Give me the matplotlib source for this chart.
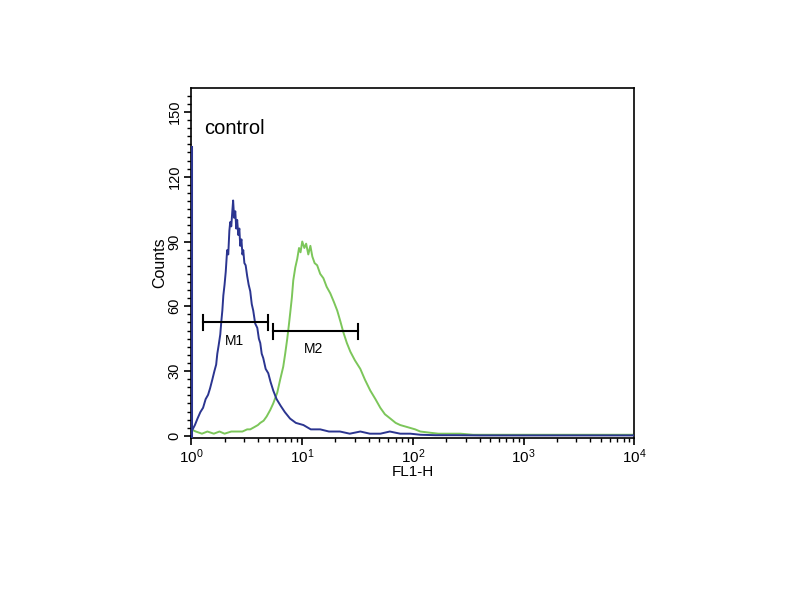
import numpy as np
import matplotlib
matplotlib.use('Agg')
import matplotlib.pyplot as plt
from matplotlib.ticker import MultipleLocator, LogLocator, NullFormatter

plt.rcParams['font.family'] = ['Liberation Sans', 'DejaVu Sans']

blue_x = [1.03, 1.08, 1.14, 1.21, 1.28, 1.35, 1.42, 1.48, 1.55, 1.62, 1.68, 1.72, 1.77,
          1.83, 1.87, 1.91, 1.95, 2.00, 2.05, 2.11, 2.16, 2.21, 2.25, 2.30, 2.35, 2.39,
          2.44, 2.50, 2.55, 2.60, 2.66, 2.72, 2.77, 2.84, 2.90, 2.95, 3.02, 3.10, 3.20,
          3.30, 3.41, 3.52, 3.63, 3.78, 3.95, 4.08, 4.20, 4.33, 4.47, 4.70, 4.96, 5.20,
          5.50, 5.90, 6.40, 7.00, 7.80, 8.80, 10.3, 12.0, 14.6, 17.5, 22.0, 27.0, 33.6,
          41.0, 51.0, 62.0, 77.0, 95.0, 117, 160, 250, 400, 700, 1200, 2500, 5000, 10000]
blue_y = [3, 5, 8, 11, 13, 17, 19, 22, 26, 30, 33, 38, 42,
          47, 53, 58, 65, 70, 76, 86, 84, 95, 99, 97, 104, 109,
          101, 104, 96, 100, 93, 96, 88, 91, 84, 86, 80, 79, 74,
          70, 67, 61, 58, 52, 50, 45, 43, 38, 36, 31, 29, 25,
          21, 17, 14, 11, 8, 6, 5, 3, 3, 2, 2, 1, 2,
          1, 1, 2, 1, 1, 0.5, 0.3, 0.3, 0.2, 0.2, 0.2, 0.2, 0.2, 0.2]
blue_spike = 134  # eventos acumulados en el primer canal

green_x = [1.00, 1.1, 1.25, 1.4, 1.6, 1.8, 2.0, 2.3, 2.6, 2.9, 3.2, 3.41, 3.7, 4.0, 4.2,
           4.5, 4.8, 5.17, 5.5, 5.98, 6.35, 6.77, 7.05, 7.36, 7.6, 7.83, 8.1, 8.34, 8.7,
           9.06, 9.4, 9.7, 10.05, 10.5, 10.9, 11.4, 11.9, 12.4, 13.0, 13.7, 14.6, 15.6,
           16.7, 18.0, 19.4, 20.8, 22.2, 23.6, 25.4, 27.3, 30.0, 33.6, 37.0, 41.3, 46.0,
           50.9, 56.0, 62.7, 70.0, 77.0, 90.0, 105, 117, 140, 170, 210, 269, 350, 500,
           800, 1500, 3000, 6000, 10000]
green_y = [3, 2, 1, 2, 1, 2, 1, 2, 2, 2, 3, 3, 4, 5, 6,
           7, 9, 12, 15, 20, 26, 32, 38, 45, 51, 57, 64, 72, 78,
           82, 87, 85, 90, 87, 89, 84, 88, 83, 80, 79, 75, 73,
           69, 66, 62, 58, 53, 48, 43, 39, 35, 31, 26, 21, 17,
           13, 10, 8, 6, 5, 4, 3, 2, 1.5, 1, 1, 1, 0.5, 0.5,
           0.5, 0.5, 0.5, 0.5, 0.5]

markers = ['M1', 'M2']
marker_start = [1.28, 5.5]
marker_end = [4.96, 32]
marker_level = [52.5, 48.5]
marker_text_x = [2.45, 12.6]
marker_text_y = [44, 40]

fig = plt.figure(figsize=(8, 6), dpi=100)
ax = fig.add_axes([0.239, 0.27, 0.554, 0.583])

ax.plot([1.0, 1.0], [0, blue_spike], color='#2b3590', lw=2.2, zorder=3)
ax.plot(blue_x, blue_y, color='#2b3590', lw=1.4, zorder=3)
ax.plot(green_x, green_y, color='#7cc65a', lw=1.4, zorder=2)

for nombre, x0, x1, nivel, tx, ty in zip(markers, marker_start, marker_end, marker_level,
                                         marker_text_x, marker_text_y):
    ax.plot([x0, x1], [nivel, nivel], color='black', lw=1.5, zorder=4)
    ax.plot([x0, x0], [nivel - 3.5, nivel + 3.5], color='black', lw=1.5, zorder=4)
    ax.plot([x1, x1], [nivel - 3.5, nivel + 3.5], color='black', lw=1.5, zorder=4)
    ax.text(tx, ty, nombre, fontsize=10, ha='center', va='center')

ax.set_xscale('log')
ax.set_xlim(1, 10000)
ax.set_ylim(-1, 161)
ax.xaxis.set_major_locator(LogLocator(base=10))
ax.xaxis.set_minor_locator(LogLocator(base=10, subs=np.arange(2, 10)))
ax.xaxis.set_minor_formatter(NullFormatter())
ax.yaxis.set_major_locator(MultipleLocator(30))
ax.yaxis.set_minor_locator(MultipleLocator(3.75))
ax.tick_params(axis='both', which='major', direction='out', length=5, width=1.2, labelsize=11)
ax.tick_params(axis='both', which='minor', direction='out', length=3, width=1)
for lab in ax.get_yticklabels():
    lab.set_rotation(90)
    lab.set_va('center')
ax.tick_params(axis='y', labelsize=10.5, pad=2)
ax.tick_params(axis='x', pad=2)

ax.set_xlabel('FL1-H', fontsize=11, labelpad=-1)
ax.set_ylabel('Counts', fontsize=11.5, labelpad=0)
ax.text(0.03, 0.886, 'control', transform=ax.transAxes, fontsize=14.5, va='center')

for s in ax.spines.values():
    s.set_linewidth(1.2)

fig.savefig('out.png', dpi=100)
